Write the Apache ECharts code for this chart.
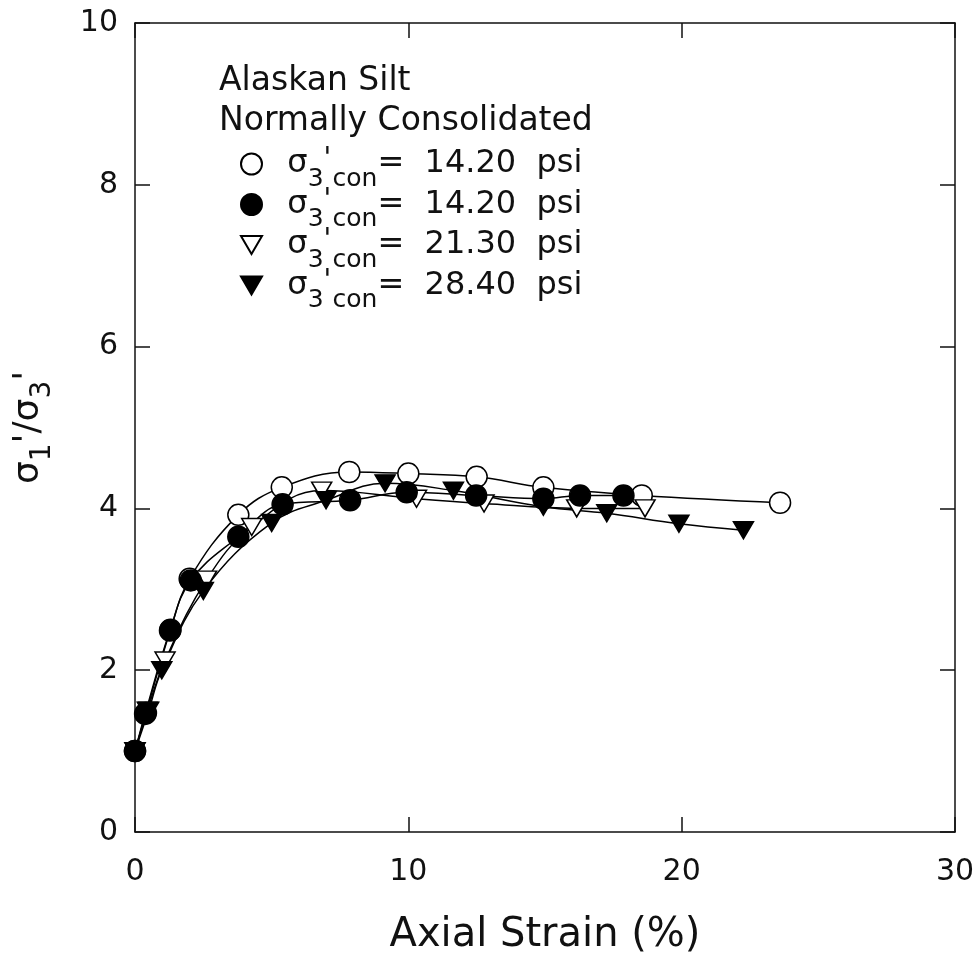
<!DOCTYPE html>
<html>
<head>
<meta charset="utf-8">
<script src="https://cdn.jsdelivr.net/npm/echarts@6/dist/echarts.min.js"></script>
<style>
  html, body { margin: 0; padding: 0; background: #fff; }
  #chart { width: 979px; height: 959px; }
</style>
</head>
<body>
<div id="chart"></div>
<script>
// values: [axial strain %, sigma1'/sigma3']
const openCircle14 = [
  [0, 1.0], [0.4, 1.47], [1.3, 2.5], [2.0, 3.13], [3.78, 3.92], [5.37, 4.26],
  [7.84, 4.45], [10.0, 4.43], [12.5, 4.39], [14.94, 4.26], [18.54, 4.16], [23.6, 4.07]
];
const filledCircle14 = [
  [0, 1.0], [0.37, 1.46], [1.28, 2.49], [2.04, 3.11], [3.78, 3.65], [5.4, 4.05],
  [7.87, 4.10], [9.94, 4.20], [12.48, 4.16], [14.94, 4.12], [16.28, 4.16], [17.87, 4.16]
];
const openTri21 = [
  [0, 1.0], [0.45, 1.5], [1.1, 2.12], [2.62, 3.12], [4.27, 3.77], [6.83, 4.22],
  [10.3, 4.12], [12.77, 4.06], [16.16, 4.0], [18.66, 4.0]
];
const filledTri28 = [
  [0, 1.0], [0.5, 1.5], [0.98, 2.0], [2.5, 2.98], [5.0, 3.82], [6.99, 4.10],
  [9.15, 4.31], [11.65, 4.22], [14.94, 4.02], [17.26, 3.94], [19.9, 3.81], [22.26, 3.73]
];
const pressures = ['14.20', '14.20', '21.30', '28.40'];
const xTicks = [0, 10, 20, 30];
const yTicks = [0, 2, 4, 6, 8, 10];

const FONT = 'DejaVu Sans';
const TRI = 'path://M0,0L20,0L10,17Z';
const INK = '#111';

const chart = echarts.init(document.getElementById('chart'));

function mkSeries(name, data, symbol, fill, size) {
  return {
    name: name,
    type: 'line',
    data: data,
    smooth: 0.4,
    symbol: symbol,
    symbolSize: size,
    showAllSymbol: true,
    lineStyle: { color: '#000', width: 1.5 },
    itemStyle: { color: fill, borderColor: '#000', borderWidth: 1.5 },
    emphasis: { disabled: true },
    animation: false
  };
}

const names = ['s1', 's2', 's3', 's4'];
// legend text: sigma with subscript "3 con" and a prime above
const legendRich = {
  s: { fontFamily: FONT, fontSize: 32, lineHeight: 46, color: INK },
  b: { fontFamily: FONT, fontSize: 25, color: INK, padding: [18, 0, -12, 0] },
  p: { fontFamily: FONT, fontSize: 28, color: INK, padding: [0, 0, 8, 0], width: 9 }
};
const nameRich = {
  s: { fontFamily: FONT, fontSize: 36, lineHeight: 52, color: INK },
  b: { fontFamily: FONT, fontSize: 28, height: 24, color: INK, verticalAlign: 'bottom' }
};

const axisCommon = {
  axisLine: { show: true, onZero: false, lineStyle: { color: INK, width: 1.5 } },
  axisTick: { show: true, inside: true, length: 15, lineStyle: { color: INK, width: 1.5 } },
  splitLine: { show: false }
};

chart.setOption({
  backgroundColor: '#fff',
  animation: false,
  title: {
    text: 'Alaskan Silt\nNormally Consolidated',
    left: 214,
    top: 56,
    textStyle: { fontFamily: FONT, fontSize: 33, fontWeight: 'normal', lineHeight: 40, color: INK }
  },
  legend: {
    orient: 'vertical',
    left: 240,
    top: 146,
    padding: 0,
    itemGap: -5,
    itemWidth: 21,
    itemHeight: 21,
    data: [
      { name: 's1', icon: 'circle' },
      { name: 's2', icon: 'circle' },
      { name: 's3', icon: TRI },
      { name: 's4', icon: TRI }
    ],
    formatter: function (n) {
      const p = pressures[names.indexOf(n)];
      return '{s|  σ}{b|3}{p|\'}{b|con}{s|=  ' + p + '  psi}';
    },
    textStyle: { rich: legendRich },
    selectedMode: false
  },
  grid: { left: 135, right: 24, top: 23, bottom: 127, outerBoundsMode: 'none' },
  xAxis: [
    Object.assign({
      type: 'value', position: 'bottom', min: 0, max: 30, interval: 10,
      name: 'Axial Strain (%)', nameLocation: 'middle', nameGap: 84,
      nameTextStyle: { fontFamily: FONT, fontSize: 40, color: INK },
      axisLabel: {
        fontFamily: FONT, fontSize: 30, color: INK, margin: 25,
        formatter: v => (xTicks.indexOf(v) >= 0 ? String(v) : '')
      }
    }, axisCommon),
    Object.assign({
      type: 'value', position: 'top', min: 0, max: 30, interval: 10,
      axisLabel: { show: false }
    }, axisCommon)
  ],
  yAxis: [
    Object.assign({
      type: 'value', position: 'left', min: 0, max: 10, interval: 2,
      name: '{s|σ}{b|1}{s|\'/σ}{b|3}{s|\'}', nameLocation: 'middle', nameGap: 80, nameRotate: 90,
      nameTextStyle: { rich: nameRich },
      axisLabel: {
        fontFamily: FONT, fontSize: 30, color: INK, margin: 17,
        formatter: v => (yTicks.indexOf(v) >= 0 ? String(v) : '')
      }
    }, axisCommon),
    Object.assign({
      type: 'value', position: 'right', min: 0, max: 10, interval: 2,
      axisLabel: { show: false }
    }, axisCommon)
  ],
  series: [
    mkSeries('s1', openCircle14, 'circle', '#fff', 21),
    mkSeries('s3', openTri21, TRI, '#fff', [20, 17]),
    mkSeries('s4', filledTri28, TRI, '#000', [20, 17]),
    mkSeries('s2', filledCircle14, 'circle', '#000', 21)
  ]
});
</script>
</body>
</html>
